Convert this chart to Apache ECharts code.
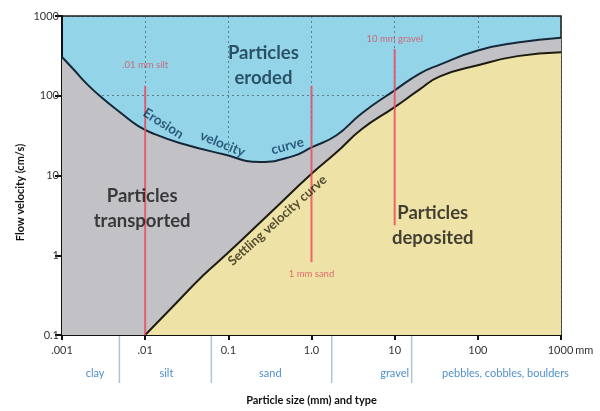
<!DOCTYPE html>
<html>
<head>
<meta charset="utf-8">
<script src="https://cdn.jsdelivr.net/npm/echarts@6/dist/echarts.min.js"></script>
<style>
html,body{margin:0;padding:0;background:#fff;}
#c{width:600px;height:411px;}
</style>
</head>
<body>
<div id="c"></div>
<script>
// ---- data (particle size in mm, flow velocity in cm/s) ----
const erosionSize = [0.001, 0.0014, 0.002, 0.003, 0.0052, 0.0082, 0.013, 0.026, 0.085, 0.24, 0.6, 1, 2, 4, 10, 20, 35, 100, 300, 1000];
const erosionVel  = [306, 210, 140, 95, 60, 42, 33, 25.6, 18.6, 14.8, 17.5, 22.5, 32, 60, 117, 190, 246, 370, 465, 535];

const settlingSize = [0.01, 0.02, 0.05, 0.1, 0.3, 1, 2, 4, 10, 20, 35, 100, 300, 1000];
const settlingVel  = [0.1, 0.21, 0.56, 1.08, 3.2, 10.5, 19.5, 38, 72, 120, 175, 241, 314, 352];

const xTickLabels = ['.001', '.01', '0.1', '1.0', '10', '100', '1000'];
const yTickLabels = ['0.1', '1', '10', '100', '1000'];

// reference particle sizes (red lines)
const refSize   = [0.01, 1, 10];
const refTop    = [133, 133, 386];
const refBottom = [0.1, 0.82, 2.37];
const refText   = ['.01 mm silt', '1 mm sand', '10 mm gravel'];
const refTextAt = [240, 0.59, 510];

// particle type classes below the axis
const typeNames  = ['clay', 'silt', 'sand', 'gravel', 'pebbles, cobbles, boulders'];
const typeCenter = [0.0025, 0.018, 0.32, 10, 215];
const typeBounds = [0.0049, 0.0625, 1.75, 16];

// region + curve annotations [size, velocity]
const regionText = ['Particles\neroded', 'Particles\ntransported', 'Particles\ndeposited'];
const regionAt   = [[0.264, 240], [0.0092, 3.82], [28.7, 2.37]];
const curveText  = ['Erosion', 'velocity', 'curve', 'Settling velocity curve'];
const curveAt    = [[0.0165, 44.8], [0.085, 24.9], [0.514, 23.5], [0.389, 2.73]];
const curveRot   = [-32, -22, 15, 42];

const FONT = 'Lato, "Open Sans", sans-serif';
const zip = (a, b) => a.map((v, i) => [v, b[i]]);

const chart = echarts.init(document.getElementById('c'), null, {renderer: 'canvas'});

const refSeries = refSize.map((s, i) => ({
  type: 'line', data: [[s, refTop[i]], [s, refBottom[i]]], symbol: 'none', silent: true,
  lineStyle: {color: 'rgba(232,78,96,0.85)', width: 2}, z: 4, animation: false
}));

const labelSeries = {
  type: 'scatter', symbolSize: 0, silent: true, z: 6, animation: false,
  data: [
    ...regionText.map((t, i) => ({
      value: regionAt[i],
      label: {show: true, position: 'inside', formatter: t, fontFamily: FONT, fontWeight: 'bold',
        fontSize: 18.5, lineHeight: 25, color: i === 0 ? '#0f2f44' : '#151515'}
    })),
    ...curveText.map((t, i) => ({
      value: curveAt[i],
      label: {show: true, position: 'inside', formatter: t, rotate: curveRot[i], fontFamily: FONT,
        fontWeight: 'bold', fontSize: i < 3 ? 13.5 : 13, color: i < 3 ? '#123a5c' : '#2a2812'}
    })),
    ...refText.map((t, i) => ({
      value: [refSize[i], refTextAt[i]],
      label: {show: true, position: 'inside', formatter: t, fontFamily: FONT, fontSize: 9.5,
        color: '#d94f5f'}
    }))
  ]
};

const option = {
  animation: false,
  grid: {left: 62, right: 39, top: 16, bottom: 68, show: true, backgroundColor: '#93d4e8',
    borderColor: '#1a1a1a', borderWidth: 1.5},
  xAxis: {
    type: 'log', logBase: 10, min: 0.001, max: 1000,
    axisLine: {show: true, onZero: false, lineStyle: {color: '#111', width: 2}},
    axisTick: {show: true, length: 5, lineStyle: {color: '#111', width: 2}},
    axisLabel: {
      fontFamily: FONT, fontSize: 11, color: '#333', margin: 10,
      formatter: v => {
        const i = Math.round(Math.log10(v)) + 3;
        if (i === 6) return '{p|}{n|' + xTickLabels[i] + '}{u|mm}';
        return xTickLabels[i];
      },
      rich: {p: {width: 20}, n: {fontFamily: FONT, fontSize: 11, color: '#333'},
        u: {width: 20, fontFamily: FONT, fontSize: 11, color: '#333', padding: [0, 0, 0, 1]}}
    },
    splitLine: {show: true, lineStyle: {type: [2, 3], color: 'rgba(40,40,40,0.5)', width: 1}},
    name: 'Particle size (mm) and type', nameLocation: 'middle', nameGap: 60,
    nameTextStyle: {fontFamily: FONT, fontWeight: 'bold', fontSize: 11, color: '#111'}
  },
  yAxis: {
    type: 'log', logBase: 10, min: 0.1, max: 1000,
    axisLine: {show: true, onZero: false, lineStyle: {color: '#111', width: 2}},
    axisTick: {show: true, length: 7, lineStyle: {color: '#111', width: 2}},
    axisLabel: {
      fontFamily: FONT, fontSize: 11, color: '#333', margin: 3,
      formatter: v => yTickLabels[Math.round(Math.log10(v)) + 1]
    },
    splitLine: {show: true, lineStyle: {type: [2, 3], color: 'rgba(40,40,40,0.5)', width: 1}}
  },
  series: [
    {type: 'line', name: 'Erosion velocity curve', data: zip(erosionSize, erosionVel), symbol: 'none',
      smooth: 0.5, silent: true, z: 2,
      lineStyle: {color: '#14283a', width: 2},
      areaStyle: {color: '#c2c1c6', opacity: 1, origin: 'start'}},
    {type: 'line', name: 'Settling velocity curve', data: zip(settlingSize, settlingVel), symbol: 'none',
      smooth: 0.5, silent: true, z: 3,
      lineStyle: {color: '#1c1b10', width: 2},
      areaStyle: {color: '#efe2a7', opacity: 1, origin: 'start'}},
    ...refSeries,
    labelSeries
  ]
};
chart.setOption(option);

// particle type classes and separators under the x axis, placed through the x scale
const baseY = chart.convertToPixel({yAxisIndex: 0}, 0.1);
const gfx = [];
typeBounds.forEach(b => {
  const x = chart.convertToPixel({xAxisIndex: 0}, b);
  gfx.push({type: 'line', shape: {x1: x, y1: baseY + 1, x2: x, y2: baseY + 48},
    style: {stroke: '#b3c3d3', lineWidth: 1.5}, silent: true});
});
typeNames.forEach((t, i) => {
  const x = chart.convertToPixel({xAxisIndex: 0}, typeCenter[i]);
  gfx.push({type: 'text', x: x, y: baseY + 38,
    style: {text: t, fill: '#4f8fcc', font: '11px ' + FONT, textAlign: 'center', textVerticalAlign: 'middle'},
    silent: true});
});
// y axis title
const midY = (chart.convertToPixel({yAxisIndex: 0}, 0.1) + chart.convertToPixel({yAxisIndex: 0}, 1000)) / 2;
gfx.push({type: 'text', x: 20, y: midY + 17, rotation: Math.PI / 2,
  style: {text: 'Flow velocity (cm/s)', fill: '#111', font: 'bold 11px ' + FONT,
    textAlign: 'center', textVerticalAlign: 'middle'}, silent: true});
chart.setOption({graphic: gfx});
</script>
</body>
</html>
